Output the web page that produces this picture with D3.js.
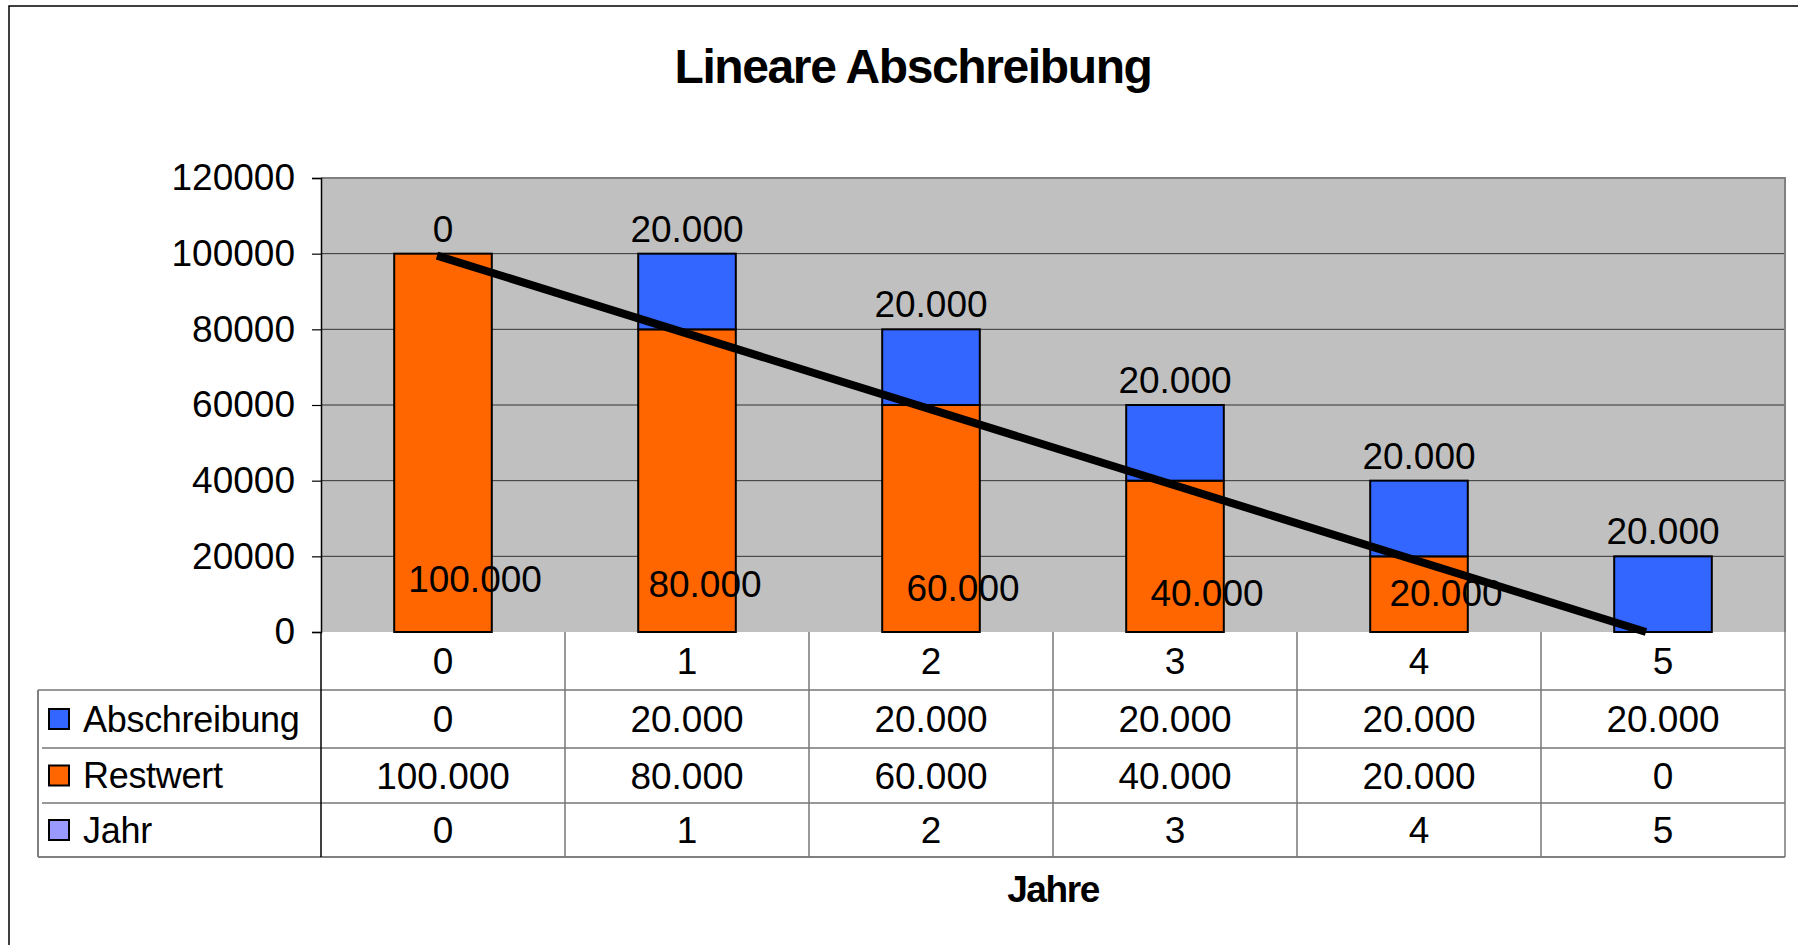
<!DOCTYPE html>
<html>
<head>
<meta charset="utf-8">
<script src="https://cdn.jsdelivr.net/npm/d3@7"></script>
<style>
  body { margin: 0; background: #fff; }
  svg { display: block; font-family: "Liberation Sans", Arial, sans-serif; }
</style>
</head>
<body>
<div id="chart"></div>
<script>
// DATA
var years = [0, 1, 2, 3, 4, 5];
var abschreibung = [0, 20000, 20000, 20000, 20000, 20000];
var restwert = [100000, 80000, 60000, 40000, 20000, 0];
var jahr = [0, 1, 2, 3, 4, 5];
var yTicks = [0, 20000, 40000, 60000, 80000, 100000, 120000];
var seriesNames = ["Abschreibung", "Restwert", "Jahr"];
var seriesColors = ["#3366FF", "#FF6600", "#9999FF"];
var title = "Lineare Abschreibung";
var axisTitle = "Jahre";

var width = 1798, height = 945;
var plot = {left: 321, right: 1785, top: 178, bottom: 632};
var rowBottoms = [690, 748, 803, 857];   // table rows below the axis
var tableLeft = 38;

// german number format 20.000
var de = d3.formatLocale({decimal: ",", thousands: ".", grouping: [3], currency: ["", " €"]});
var fmt = de.format(",d");

var svg = d3.select("#chart")
  .append("svg")
  .attr("width", width)
  .attr("height", height);

// outer frame
svg.append("rect")
  .attr("x", 9).attr("y", 6)
  .attr("width", width + 10).attr("height", height + 10)
  .attr("fill", "#fff")
  .attr("stroke", "#000")
  .attr("stroke-width", 1.5);

// title
svg.append("text")
  .attr("x", 913).attr("y", 83)
  .attr("text-anchor", "middle")
  .style("font-size", "48px")
  .style("font-weight", "bold")
  .style("letter-spacing", "-1.4px")
  .text(title);

// scales
var x = d3.scaleBand()
  .domain(years)
  .range([plot.left, plot.right])
  .paddingInner(0.6)
  .paddingOuter(0.3);

var cells = d3.scaleBand()
  .domain(years)
  .range([plot.left, plot.right]);

var y = d3.scaleLinear()
  .domain([0, 120000])
  .range([plot.bottom, plot.top]);

// plot background
svg.append("rect")
  .attr("x", plot.left).attr("y", plot.top)
  .attr("width", plot.right - plot.left)
  .attr("height", plot.bottom - plot.top)
  .attr("fill", "#C0C0C0");

// gridlines
svg.append("g")
  .selectAll("line")
  .data(yTicks.filter(function(d) { return d > 0 && d < 120000; }))
  .enter().append("line")
  .attr("x1", plot.left).attr("x2", plot.right)
  .attr("y1", function(d) { return y(d); })
  .attr("y2", function(d) { return y(d); })
  .attr("stroke", "#333")
  .attr("stroke-width", 1);

// top + right border of plot area
svg.append("path")
  .attr("d", "M" + plot.left + "," + plot.top + "H" + plot.right + "V" + plot.bottom)
  .attr("fill", "none")
  .attr("stroke", "#808080")
  .attr("stroke-width", 2);

// stacked bars : Restwert at bottom, Abschreibung on top
var rows = years.map(function(d, i) {
  return {year: d, Restwert: restwert[i], Abschreibung: abschreibung[i]};
});
var stack = d3.stack().keys(["Restwert", "Abschreibung"])(rows);
var colorOf = {Restwert: seriesColors[1], Abschreibung: seriesColors[0]};

var layers = svg.append("g").attr("id", "bars")
  .selectAll("g")
  .data(stack)
  .enter().append("g")
  .attr("fill", function(d) { return colorOf[d.key]; });

layers.selectAll("rect")
  .data(function(d) { return d.filter(function(e) { return e[1] - e[0] > 0; }); })
  .enter().append("rect")
  .attr("x", function(d) { return x(d.data.year); })
  .attr("y", function(d) { return y(d[1]); })
  .attr("width", x.bandwidth())
  .attr("height", function(d) { return y(d[0]) - y(d[1]); })
  .attr("stroke", "#000")
  .attr("stroke-width", 2);

// y axis
var yAxis = svg.append("g")
  .attr("transform", "translate(" + plot.left + ",0)")
  .call(d3.axisLeft(y).tickValues(yTicks).tickSize(9).tickPadding(17).tickFormat(d3.format("d")));
yAxis.select(".domain").attr("stroke", "#000").attr("stroke-width", 1.5);
yAxis.selectAll(".tick line").attr("stroke", "#000").attr("stroke-width", 1.2);
yAxis.selectAll("text")
  .style("font-size", "37px")
  .style("font-family", "'Liberation Sans', Arial, sans-serif")
  .attr("fill", "#000");

// labels Abschreibung (above the stack)
svg.append("g").selectAll("text")
  .data(years)
  .enter().append("text")
  .attr("x", function(d) { return x(d) + x.bandwidth() / 2; })
  .attr("y", function(d, i) { return y(restwert[i] + abschreibung[i]) - 12; })
  .attr("text-anchor", "middle")
  .style("font-size", "37px")
  .text(function(d, i) { return fmt(abschreibung[i]); });

// labels Restwert (near the bottom, excel puts them a bit off centre)
svg.append("g").selectAll("text")
  .data(years.filter(function(d, i) { return restwert[i] > 0; }))
  .enter().append("text")
  .attr("x", function(d, i) { return x(d) + x.bandwidth() / 2 + (i == 1 ? 18 : i == 4 ? 27 : 32); })
  .attr("y", function(d, i) { return y(0) - 40 + Math.min(i, 3) * 4.5; })
  .attr("text-anchor", "middle")
  .style("font-size", "37px")
  .text(function(d) { return fmt(restwert[years.indexOf(d)]); });

// linear trend of Restwert
var trend = d3.line()
  .x(function(d) { return d[0]; })
  .y(function(d) { return d[1]; });
var n = years.length - 1;
svg.append("path")
  .attr("d", trend([
    [x(years[0]) + x.bandwidth() / 2 - 6, y(restwert[0]) + 2],
    [x(years[n]) + x.bandwidth() / 2 - 17, y(restwert[n])]
  ]))
  .attr("fill", "none")
  .attr("stroke", "#000")
  .attr("stroke-width", 8);

// DATA TABLE
var table = svg.append("g").attr("id", "table");
var tableRows = [
  {name: null, values: years.map(String)},
  {name: seriesNames[0], color: seriesColors[0], values: abschreibung.map(fmt)},
  {name: seriesNames[1], color: seriesColors[1], values: restwert.map(fmt)},
  {name: seriesNames[2], color: seriesColors[2], values: jahr.map(String)}
];

// horizontal lines
rowBottoms.forEach(function(b, i) {
  table.append("line")
    .attr("x1", i == rowBottoms.length - 1 ? tableLeft : tableLeft + 4).attr("x2", plot.right)
    .attr("y1", b).attr("y2", b)
    .attr("stroke", i == rowBottoms.length - 1 ? "#808080" : "#333")
    .attr("stroke-width", i == rowBottoms.length - 1 ? 2 : 1.2);
});
table.select("line").attr("x1", tableLeft); // first one spans full

// vertical lines between year cells
years.concat([null]).forEach(function(d, i) {
  var xx = d === null ? plot.right : cells(d);
  table.append("line")
    .attr("x1", xx).attr("x2", xx)
    .attr("y1", plot.bottom).attr("y2", rowBottoms[rowBottoms.length - 1])
    .attr("stroke", i == 0 ? "#000" : "#777")
    .attr("stroke-width", 1.5);
});
// left edge of legend column
table.append("line")
  .attr("x1", tableLeft).attr("x2", tableLeft)
  .attr("y1", rowBottoms[0]).attr("y2", rowBottoms[rowBottoms.length - 1])
  .attr("stroke", "#808080").attr("stroke-width", 2);

var rowTops = [plot.bottom].concat(rowBottoms.slice(0, -1));
tableRows.forEach(function(r, ri) {
  var cy = (rowTops[ri] + rowBottoms[ri]) / 2;
  table.append("g").selectAll("text")
    .data(r.values)
    .enter().append("text")
    .attr("x", function(d, i) { return cells(years[i]) + cells.bandwidth() / 2; })
    .attr("y", cy)
    .attr("dy", "0.36em")
    .attr("text-anchor", "middle")
    .style("font-size", "37px")
    .text(function(d) { return d; });
  if (r.name) {
    table.append("rect")
      .attr("x", 49).attr("y", cy - 10)
      .attr("width", 20).attr("height", 20)
      .attr("fill", r.color)
      .attr("stroke", "#000")
      .attr("stroke-width", 2);
    table.append("text")
      .attr("x", 83).attr("y", cy)
      .attr("dy", "0.36em")
      .style("font-size", "36px")
      .style("letter-spacing", "-0.3px")
      .text(r.name);
  }
});

// axis title
svg.append("text")
  .attr("x", (plot.left + plot.right) / 2)
  .attr("y", 902)
  .attr("text-anchor", "middle")
  .style("font-size", "37px")
  .style("font-weight", "bold")
  .style("letter-spacing", "-1.4px")
  .text(axisTitle);
</script>
</body>
</html>
